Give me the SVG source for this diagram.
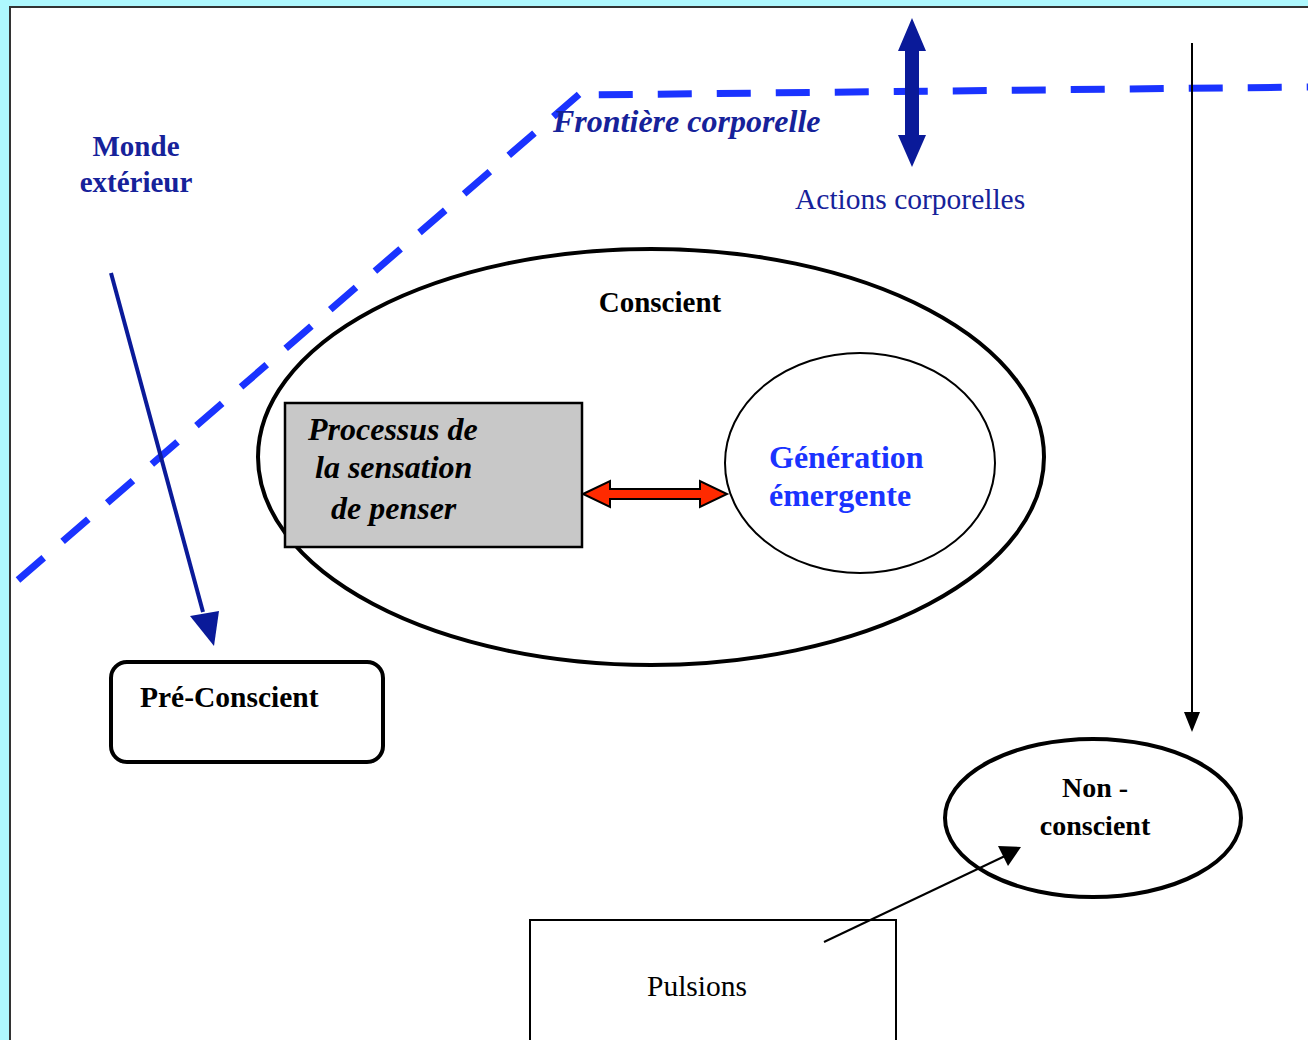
<svg xmlns="http://www.w3.org/2000/svg" width="1308" height="1040" viewBox="0 0 1308 1040">
<defs>
<style>
.t{font-family:"Liberation Serif","Times New Roman",serif;}
.b{font-weight:bold;}
.i{font-style:italic;}
.navy{fill:#16229a;}
.blk{fill:#000;}
</style>
</defs>
<rect x="0" y="0" width="1308" height="1040" fill="#aef8fe"/>
<rect x="10" y="7" width="1310" height="1045" fill="#fff" stroke="#333" stroke-width="2"/>

<g id="frontier">
<path d="M18,580 L583,91 L583,95 L1308,87" fill="none" stroke="#1a33ff" stroke-width="7" stroke-dasharray="34,25"/>
</g>

<g id="monde">
<text class="t b navy" x="136" y="156" font-size="29" text-anchor="middle">Monde</text>
<text class="t b navy" x="136" y="192" font-size="29" text-anchor="middle">extérieur</text>
</g>
<g id="frontiere-label">
<text class="t b i navy" x="553" y="132" font-size="32">Frontière corporelle</text>
</g>
<g id="actions">
<text class="t navy" x="795" y="209" font-size="29.5">Actions corporelles</text>
</g>

<g id="conscient">
<ellipse cx="651" cy="457" rx="393" ry="208" fill="none" stroke="#000" stroke-width="4"/>
<text class="t b blk" x="660" y="312" font-size="29" text-anchor="middle">Conscient</text>
</g>

<g id="processus">
<rect x="285" y="403" width="297" height="144" fill="#c8c8c8" stroke="#000" stroke-width="2.5"/>
<text class="t b i blk" x="308" y="440" font-size="32">Processus de</text>
<text class="t b i blk" x="315" y="478" font-size="32">la sensation</text>
<text class="t b i blk" x="331" y="519" font-size="32">de penser</text>
</g>

<g id="generation">
<ellipse cx="860" cy="463" rx="135" ry="110" fill="#fff" stroke="#000" stroke-width="2"/>
<text class="t b" x="769" y="468" font-size="32" fill="#1a33ff">Génération</text>
<text class="t b" x="769" y="506" font-size="32" fill="#1a33ff">émergente</text>
</g>

<g id="preconscient">
<rect x="111" y="662" width="272" height="100" rx="16" ry="16" fill="#fff" stroke="#000" stroke-width="4"/>
<text class="t b blk" x="140" y="707" font-size="29.5">Pré-Conscient</text>
</g>

<g id="nonconscient">
<ellipse cx="1093" cy="818" rx="148" ry="79" fill="#fff" stroke="#000" stroke-width="4"/>
<text class="t b blk" x="1095" y="797" font-size="28" text-anchor="middle">Non -</text>
<text class="t b blk" x="1095" y="835" font-size="28" text-anchor="middle">conscient</text>
</g>

<g id="pulsions">
<rect x="530" y="920" width="366" height="140" fill="#fff" stroke="#000" stroke-width="2"/>
<text class="t blk" x="647" y="996" font-size="29.5">Pulsions</text>
</g>

<g id="connectors">
<path d="M912,18 L926,51 L919,51 L919,135 L926,135 L912,167 L898,135 L905,135 L905,51 L898,51 Z" fill="#0a1a99"/>
<line x1="111" y1="273" x2="203" y2="612" stroke="#0a1a99" stroke-width="4"/>
<path d="M190,616 L219,611 L214,646 Z" fill="#0a1a99"/>
<path d="M583,494 L610,481 L610,489 L700,489 L700,481 L727,494 L700,507 L700,499 L610,499 L610,507 Z" fill="#ff2a00" stroke="#000" stroke-width="2" stroke-linejoin="miter"/>
<line x1="1192" y1="43" x2="1192" y2="712" stroke="#000" stroke-width="2"/>
<path d="M1184,712 L1200,712 L1192,732 Z" fill="#000"/>
<line x1="824" y1="942" x2="1005" y2="856" stroke="#000" stroke-width="2"/>
<path d="M998,846 L1021,847 L1008,866 Z" fill="#000"/>
</g>
</svg>
